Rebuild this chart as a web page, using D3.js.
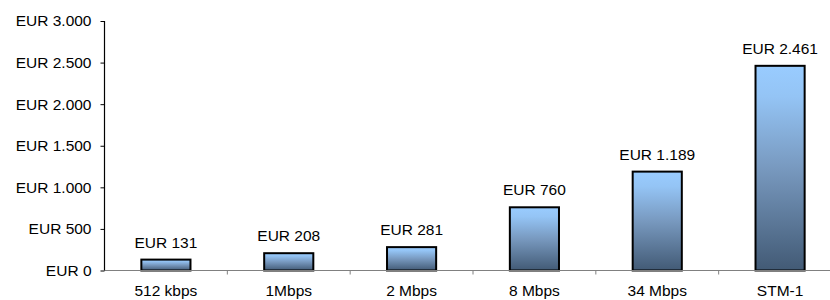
<!DOCTYPE html>
<html><head><meta charset="utf-8">
<script src="https://cdn.jsdelivr.net/npm/d3@7"></script>
<style>body{margin:0;background:#fff}text{font-family:"Liberation Sans",Arial,sans-serif}</style>
</head><body><svg id="c" width="830" height="300"></svg>
<script>
const categories = ["512 kbps","1Mbps","2 Mbps","8 Mbps","34 Mbps","STM-1"];
const values = [131,208,281,760,1189,2461];
const valueLabels = ["EUR 131","EUR 208","EUR 281","EUR 760","EUR 1.189","EUR 2.461"];
const yTicks = [0,500,1000,1500,2000,2500,3000];
const yTickLabels = ["EUR 0","EUR 500","EUR 1.000","EUR 1.500","EUR 2.000","EUR 2.500","EUR 3.000"];

const svg = d3.select("#c");
const x0 = 104.5, x1 = 841.5, yTop = 21, yBot = 270.5;
const x = d3.scaleBand().domain(categories).range([x0, x1]).paddingInner(0.6).paddingOuter(0.3);
const y = d3.scaleLinear().domain([0,3000]).range([yBot, yTop]);

const defs = svg.append("defs");
const g = defs.append("linearGradient").attr("id","bg").attr("x1",0).attr("y1",0).attr("x2",0).attr("y2",1);
g.append("stop").attr("offset","0%").attr("stop-color","#99ccff");
g.append("stop").attr("offset","15%").attr("stop-color","#94c4f5");
g.append("stop").attr("offset","50%").attr("stop-color","#7899bf");
g.append("stop").attr("offset","100%").attr("stop-color","#425a75");

// bars
svg.selectAll("rect.bar").data(values).join("rect").attr("class","bar")
  .attr("x",(d,i)=>x(categories[i])).attr("width",x.bandwidth())
  .attr("y",d=>y(d)).attr("height",d=>yBot-y(d))
  .attr("fill","url(#bg)").attr("stroke","#000").attr("stroke-width",2);

// x axis line
const step = x.step();
svg.append("line").attr("x1",x0).attr("x2",830).attr("y1",yBot).attr("y2",yBot).attr("stroke","#808080").attr("stroke-width",1.2);
svg.selectAll("line.xt").data(d3.range(1,categories.length)).join("line").attr("class","xt")
  .attr("x1",i=>x0+i*step).attr("x2",i=>x0+i*step).attr("y1",yBot).attr("y2",yBot+4)
  .attr("stroke","#808080").attr("stroke-width",1);

// y axis
const ya = svg.append("g").attr("transform",`translate(${x0},0)`)
  .call(d3.axisLeft(y).tickValues(yTicks).tickFormat((d,i)=>yTickLabels[i]).tickSize(4).tickPadding(9));
ya.select(".domain").attr("stroke","#000").attr("stroke-width",1.2).attr("d",`M0,${yTop}V${yBot}`);
ya.selectAll(".tick line").attr("stroke","#000");
ya.selectAll(".tick text").attr("font-size",15.5).attr("fill","#000").attr("font-family","Liberation Sans, Arial, sans-serif");

// category labels
svg.selectAll("text.cat").data(categories).join("text").attr("class","cat")
  .attr("x",d=>x(d)+x.bandwidth()/2).attr("y",296).attr("text-anchor","middle")
  .attr("font-size",15.5).attr("fill","#000").text(d=>d);

// value labels
svg.selectAll("text.val").data(values).join("text").attr("class","val")
  .attr("x",(d,i)=>x(categories[i])+x.bandwidth()/2).attr("y",d=>y(d)-12).attr("text-anchor","middle")
  .attr("font-size",15.5).attr("fill","#000").text((d,i)=>valueLabels[i]);
</script></body></html>
